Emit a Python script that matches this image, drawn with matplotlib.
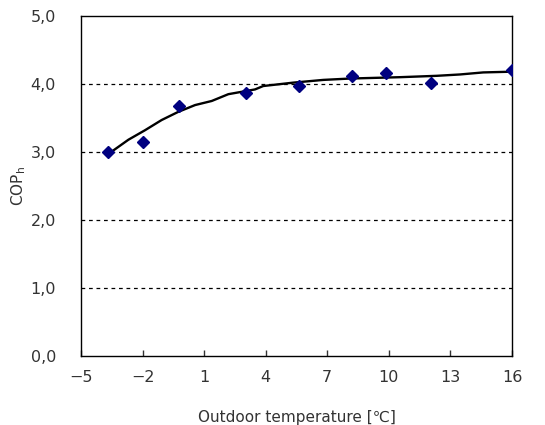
import matplotlib
matplotlib.use("Agg")
import matplotlib.pyplot as plt
from matplotlib.ticker import FuncFormatter

plt.rcParams['font.family'] = ['DejaVu Sans']

# Measured COP at each outdoor temperature
temp_c = [-3.7, -2.0, -0.2, 3.05, 5.6, 8.2, 9.85, 12.05, 16.0]
cop_h = [3.00, 3.15, 3.68, 3.87, 3.97, 4.11, 4.16, 4.01, 4.21]

# Fitted trend curve
fit_temp = [-3.67, -2.69, -1.88, -1.07, -0.26, 0.56, 1.37, 2.18, 3.48, 3.88,
            5.35, 6.81, 8.11, 10.55, 12.33, 13.47, 14.6, 15.9]
fit_cop = [2.97, 3.18, 3.32, 3.47, 3.59, 3.69, 3.75, 3.85, 3.92, 3.97,
           4.02, 4.06, 4.08, 4.10, 4.12, 4.14, 4.17, 4.18]

x_ticks = [-5, -2, 1, 4, 7, 10, 13, 16]
y_ticks = [0, 1, 2, 3, 4, 5]

fig = plt.figure(figsize=(5.45, 4.25), dpi=100)
ax = fig.add_axes([0.1486, 0.1624, 0.7908, 0.8])

for yv in y_ticks[1:-1]:
    ax.axhline(yv, color='black', linewidth=0.9, linestyle=(0, (3, 3)), zorder=1)

ax.plot(fit_temp, fit_cop, color='black', linewidth=1.7, zorder=2)
ax.plot(temp_c, cop_h, linestyle='none', marker='D', markersize=6.5,
        color='#000080', zorder=3)

ax.set_xlim(-5, 16)
ax.set_ylim(0, 5)
ax.set_xticks(x_ticks)
ax.set_xticklabels([str(v).replace('-', '\u2212') for v in x_ticks])
ax.set_yticks(y_ticks)
ax.yaxis.set_major_formatter(FuncFormatter(lambda v, p: f"{v:.1f}".replace('.', ',')))

ax.tick_params(axis='x', direction='in', length=4, width=1, pad=10,
               labelsize=11.5, colors='#333333', top=False)
ax.tick_params(axis='y', length=0, pad=18, labelsize=11.5, colors='#333333')

for s in ax.spines.values():
    s.set_color('black')
    s.set_linewidth(1.0)

ax.set_xlabel('Outdoor temperature [\u2103]', fontsize=11, color='#333333', labelpad=18)
ax.set_ylabel('COP$_\\mathregular{h}$', fontsize=11, color='#333333', labelpad=2)

fig.savefig('out.png', dpi=100, facecolor='white')
